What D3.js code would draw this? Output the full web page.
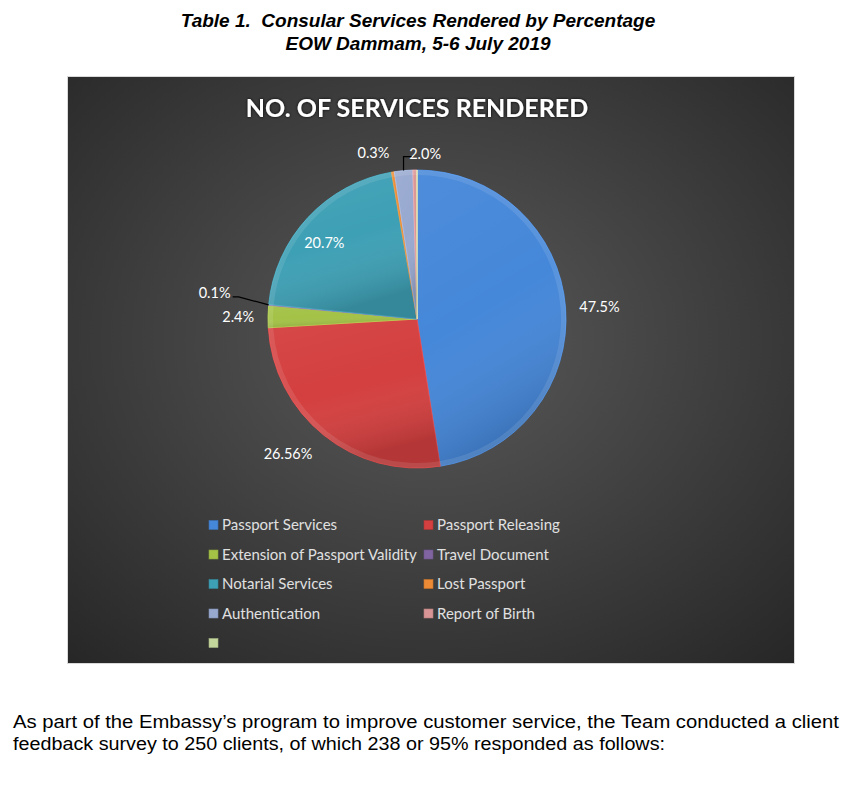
<!DOCTYPE html>
<html><head><meta charset="utf-8">
<script src="https://cdn.jsdelivr.net/npm/d3@7/dist/d3.min.js"></script>
<style>body{margin:0;background:#fff}svg{display:block}</style>
</head><body>
<svg id="c" width="860" height="794"></svg>
<script>
const categories = ["Passport Services","Passport Releasing","Extension of Passport Validity","Travel Document","Notarial Services","Lost Passport","Authentication","Report of Birth",""];
const values = [47.5, 26.56, 2.4, 0.1, 20.7, 0.3, 2.0, 0.44, 0];
const labels = ["47.5%","26.56%","2.4%","0.1%","20.7%","0.3%","2.0%","",""];
const colors = ["#4587d9","#d43f3f","#a3c246","#8064a2","#3ea0b5","#ec8a35","#98a9d0","#d99595","#c3d69b"];
// label placement (layout only): radius factor and angle shift in degrees
const labelLayout = [[1.227,0.7],[1.253,4.9],[1.2,-0.3],[1.37,2],[0.806,-3.4],[1.15,-5.4],[1.11,8],[0,0],[0,0]];

const svg = d3.select("#c");
svg.append("rect").attr("width",860).attr("height",794).attr("fill","#fff");

// header
const hdr = svg.append("g").attr("font-family","Liberation Sans, Arial, sans-serif")
  .attr("font-weight","bold").attr("font-style","italic").attr("font-size",19).attr("text-anchor","middle").attr("fill","#000");
hdr.append("text").attr("x",418).attr("y",27).text("Table 1.\u00a0 Consular Services Rendered by Percentage");
hdr.append("text").attr("x",418).attr("y",50).text("EOW Dammam, 5-6 July 2019");

// chart area
const defs = svg.append("defs");
const bg = defs.append("radialGradient").attr("id","bg").attr("cx","50%").attr("cy","45%").attr("r","75%");
bg.append("stop").attr("offset","0%").attr("stop-color","#5a5a5a");
bg.append("stop").attr("offset","100%").attr("stop-color","#262626");
const sh = defs.append("linearGradient").attr("id","shade").attr("x1",0).attr("y1",0).attr("x2",0.3).attr("y2",1);
sh.append("stop").attr("offset","0%").attr("stop-color","#fff").attr("stop-opacity",0.05);
sh.append("stop").attr("offset","55%").attr("stop-color","#fff").attr("stop-opacity",0);
sh.append("stop").attr("offset","100%").attr("stop-color","#000").attr("stop-opacity",0.15);
const f = defs.append("filter").attr("id","ts").attr("x","-10%").attr("y","-30%").attr("width","120%").attr("height","160%");
f.append("feDropShadow").attr("dx",0).attr("dy",0).attr("stdDeviation",1.5).attr("flood-color","#000").attr("flood-opacity",0.9);

svg.append("rect").attr("x",67.5).attr("y",76.5).attr("width",727).attr("height",587)
  .attr("fill","url(#bg)").attr("stroke","#d9d9d9").attr("stroke-width",1);

svg.append("text").attr("x",417).attr("y",117).attr("text-anchor","middle")
  .attr("font-family","Lato, Open Sans, sans-serif").attr("font-weight","bold").attr("font-size",25)
  .attr("fill","#fff").attr("filter","url(#ts)").text("NO. OF SERVICES RENDERED");

const cx = 417, cy = 319, R = 149;
const pie = d3.pie().sort(null).value(d => d)(values);
const arc = d3.arc().innerRadius(0).outerRadius(R);
const g = svg.append("g").attr("transform",`translate(${cx},${cy})`);
g.selectAll("path.s").data(pie).join("path").attr("class","s")
  .attr("d",arc).attr("fill",(d,i)=>colors[i])
  .attr("stroke",(d,i)=>d3.color(colors[i]).brighter(0.4)).attr("stroke-width",0.8);
g.selectAll("path.o").data(pie).join("path").attr("class","o")
  .attr("d",arc).attr("fill","url(#shade)").attr("pointer-events","none");
// bevel edge
const rim = d3.arc().innerRadius(R-5).outerRadius(R);
g.selectAll("path.r").data(pie).join("path").attr("class","r")
  .attr("d",rim).attr("fill","#fff").attr("fill-opacity",0.1);

// labels
const lg = g.append("g").attr("font-family","Lato, Open Sans, sans-serif").attr("font-size",14.5).attr("fill","#fff").attr("text-anchor","middle");
pie.forEach((d,i) => {
  if (!labels[i]) return;
  const [rf, shift] = labelLayout[i];
  const a = (d.startAngle + d.endAngle)/2 + shift*Math.PI/180;
  const x = Math.sin(a)*R*rf, y = -Math.cos(a)*R*rf;
  lg.append("text").attr("x",x).attr("y",y+5).text(labels[i]);
});
// leader lines
const mid = d => (d.startAngle + d.endAngle)/2;
{
  const d = pie[3], a = mid(d);
  const x0 = Math.sin(a)*R, y0 = -Math.cos(a)*R;
  g.append("path").attr("d",`M${x0},${y0}L${x0-30},${y0-8}L${x0-36},${y0-8}`).attr("fill","none").attr("stroke","#000").attr("stroke-width",1.2);
}
{
  const d = pie[6], a = mid(d);
  const x0 = Math.sin(a)*R, y0 = -Math.cos(a)*R;
  g.append("path").attr("d",`M${x0},${y0}L${x0},${y0-14}L${x0+8},${y0-14}`).attr("fill","none").attr("stroke","#000").attr("stroke-width",1.2);
}

// legend
const leg = svg.append("g").attr("font-family","Lato, Open Sans, sans-serif").attr("font-size",15).attr("fill","#e0e0e0");
categories.forEach((c,i) => {
  const col = i % 2, row = Math.floor(i/2);
  const x = 209 + col*215, y = 525 + row*29.5;
  leg.append("rect").attr("x",x).attr("y",y-4.5).attr("width",9).attr("height",9).attr("fill",colors[i])
    .attr("stroke",d3.color(colors[i]).darker(0.5)).attr("stroke-width",0.6);
  if (c) leg.append("text").attr("x",x+13).attr("y",y+5).text(c);
});

// body text
const bt = svg.append("g").attr("font-family","Liberation Sans Narrow, Liberation Sans, Arial, sans-serif").attr("font-size",17.5).attr("fill","#000");
bt.append("text").attr("x",13).attr("y",728).attr("textLength",826).attr("lengthAdjust","spacingAndGlyphs")
  .text("As part of the Embassy\u2019s program to improve customer service, the Team conducted a client");
bt.append("text").attr("x",13).attr("y",750).attr("textLength",652).attr("lengthAdjust","spacingAndGlyphs")
  .text("feedback survey to 250 clients, of which 238 or 95% responded as follows:");
</script>
</body></html>
